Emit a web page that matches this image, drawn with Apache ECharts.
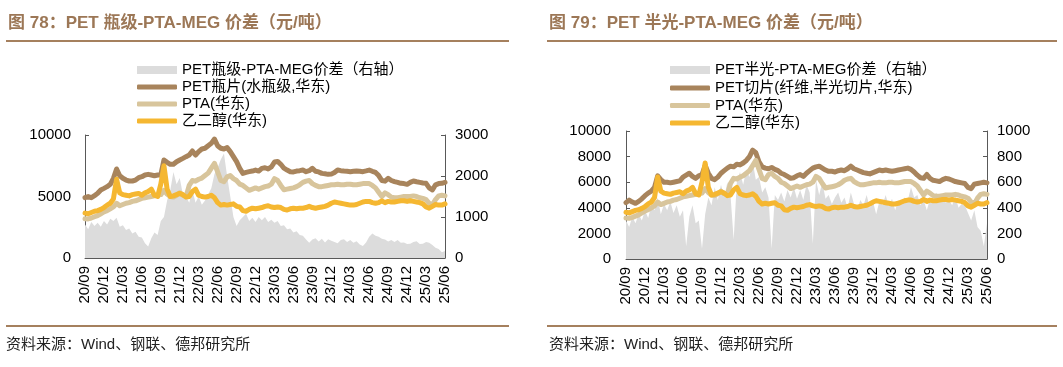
<!DOCTYPE html>
<html><head><meta charset="utf-8">
<script src="https://cdn.jsdelivr.net/npm/echarts@6/dist/echarts.min.js"></script>
<style>html,body{margin:0;padding:0;background:#fff}#c{width:1063px;height:367px}</style>
</head><body><div id="c"></div>
<script>
// Tick labels shown on the quarterly ticks (every 6th half-month category)
const tickLabels = ['20/09','20/12','21/03','21/06','21/09','21/12','22/03','22/06','22/09','22/12',
  '23/03','23/06','23/09','23/12','24/03','24/06','24/09','24/12','25/03','25/06'];

// Half-month categories, 2020-09 (1st half) .. 2025-06 (1st half)
const categories = [];
for (let y = 2020, m = 9; ; ) {
  const mm = String(m).padStart(2, '0');
  categories.push(y + '-' + mm + '-01');
  if (y === 2025 && m === 6) break;
  categories.push(y + '-' + mm + '-16');
  m++; if (m > 12) { m = 1; y++; }
}

// PET bottle grade (East China), yuan/t
const petBottle = [4900,4990,4900,5070,5260,5530,5660,5800,5990,6480,
  7240,6690,6480,6340,6260,6260,6340,6530,6610,6750,
  6800,6750,6690,6750,6750,7970,7780,7620,7620,7830,
  7970,8100,8240,8370,8700,8370,8650,8860,8920,9130,
  9320,9670,9130,8920,8860,8970,8650,8240,7830,7290,
  6880,6960,7020,7070,7150,7070,7290,7340,7240,7400,
  7800,7850,7620,7300,7150,7020,7000,7070,7100,7150,
  7020,7100,7290,7050,7000,6880,6850,6800,6820,6950,
  7150,7100,7070,7050,7020,7050,7070,7050,7020,7080,
  7150,7050,6960,6700,6300,6250,6480,6300,6210,6150,
  6070,6050,5990,6150,6260,6200,6150,6100,6070,5700,
  5530,5950,6050,6070,6150];

// PET fiber semi-dull chips (East China), yuan/t
const petFiber = [4400,4600,4450,4350,4500,4700,4950,5150,5300,5600,
  6500,6200,6000,6000,5950,6000,6050,6100,6400,6550,
  6700,6450,6300,6500,6600,7300,6700,6300,6200,6400,
  6700,6900,7100,7250,7200,7400,7350,7500,7700,8000,
  8500,8300,7600,7200,7100,7050,7150,7000,6900,6700,
  6600,6450,6300,6350,6500,6600,6450,6700,6900,7100,
  7200,7250,7100,6950,6850,6850,6800,6900,6950,6900,
  7050,7250,7050,6950,6850,6750,6700,6650,6750,6850,
  6950,6900,6950,6900,6850,6900,6950,7000,7050,7100,
  7000,6800,6550,6350,6300,6600,6300,6150,6100,6050,
  6200,6300,6250,6150,6050,6000,5950,5900,5600,5500,
  5850,5900,5950,6000,5950];

// PTA (East China), yuan/t
const pta = [3200,3180,3250,3350,3450,3600,3750,3850,4000,4150,
  4450,4250,4350,4450,4500,4600,4650,4750,4850,4900,
  4950,5000,5050,5100,5150,5500,5200,5000,4950,5100,
  5300,5100,5000,5900,6300,6250,6400,6500,6700,6900,
  7300,7700,7000,6300,6200,6600,6700,6450,6300,6000,
  5900,5700,5500,5600,5700,5600,5700,5800,5850,6000,
  6450,6300,5900,5550,5600,5650,5700,5800,5950,6150,
  6250,6300,6050,5900,5800,5800,5850,5900,5950,5950,
  6000,5950,5950,6000,6000,5950,5950,6000,6050,6050,
  6050,5900,5700,5350,5000,5300,5150,4950,4900,4900,
  4950,5000,5000,5000,5050,5000,4900,4850,4750,4450,
  4300,4750,5050,5100,5050];

// MEG (East China), yuan/t
const meg = [3650,3600,3700,3800,3850,3950,4100,4300,4450,4800,
  6400,5300,5150,5100,5050,5150,5200,5250,5100,5300,
  5400,5600,5100,5000,6000,7500,5600,5000,5050,5150,
  5250,5150,4950,5000,5400,5600,5100,5000,4950,5000,
  5100,4900,4500,4300,4350,4300,4350,4400,4200,4150,
  3850,3800,3950,4050,4000,4050,4100,4200,4250,4150,
  4100,4150,4100,3950,3900,4000,4050,4000,4050,4050,
  4100,4200,4100,4050,4100,4150,4200,4300,4450,4550,
  4500,4450,4400,4350,4300,4300,4350,4450,4550,4600,
  4600,4500,4450,4500,4650,4500,4600,4550,4550,4600,
  4650,4650,4600,4650,4600,4550,4500,4400,4150,4050,
  4200,4350,4300,4300,4400];

// Bottle-grade spread (right axis)
const spreadBottle = [820,700,880,780,860,760,900,820,960,900,
  980,760,800,680,720,600,640,520,500,360,
  280,480,620,560,900,1000,1400,1650,2100,1800,
  1950,1550,1500,1350,1650,1350,1500,1300,1400,1550,
  1700,2050,2200,2400,2550,2000,1500,1000,780,920,
  1000,1080,900,980,880,1000,920,1000,880,930,
  860,900,780,800,700,720,620,650,560,540,
  450,370,450,480,400,470,380,460,420,390,
  360,440,460,390,440,370,410,330,290,380,
  520,600,540,520,470,450,400,440,390,440,
  370,380,340,350,390,410,340,350,390,370,
  320,250,220,140,170];

// Semi-dull chip spread (right axis)
const spreadFiber = [300,250,330,280,350,300,380,320,420,380,
  480,350,430,380,450,360,420,330,380,100,
  330,420,280,300,80,350,480,420,560,460,
  580,480,600,500,150,600,680,580,700,640,
  760,620,640,520,560,480,80,500,460,520,
  450,540,480,560,470,540,460,580,520,120,
  620,500,600,470,500,430,480,520,440,480,
  400,520,430,380,460,420,500,400,450,350,
  450,420,500,410,470,380,460,430,480,460,
  560,480,500,420,460,380,470,440,520,450,
  480,440,460,420,490,400,430,420,360,300,
  380,250,220,100,280];

const FONT = '"Liberation Sans","Noto Sans CJK SC",sans-serif';
const C_PET = '#A8845C', C_PTA = '#D8C59C', C_MEG = '#F5B731', C_GRAY = '#DCDCDC';
const AX = '#595959';
const showTick = (i) => i % 6 === 0;

function xAxis(g) {
  return {
    type: 'category', gridIndex: g, data: categories, boundaryGap: false,
    axisLine: { show: true, lineStyle: { color: AX, width: 1 } },
    axisTick: { show: true, inside: true, length: 4, interval: showTick, lineStyle: { color: AX } },
    axisLabel: { interval: showTick, rotate: 90, margin: 8, fontSize: 15, color: '#000', fontFamily: FONT,
      formatter: (v, i) => tickLabels[i / 6] },
    splitLine: { show: false }
  };
}
function yAxis(g, pos, max, interval, margin) {
  return {
    type: 'value', gridIndex: g, position: pos, min: 0, max: max, interval: interval,
    axisLine: { show: true, lineStyle: { color: AX, width: 1 } },
    axisTick: { show: true, inside: true, length: 4, lineStyle: { color: AX } },
    axisLabel: { fontSize: 15, color: '#000', fontFamily: FONT, margin: margin, formatter: (v) => String(v) },
    splitLine: { show: false }
  };
}
function grayS(name, xi, yi, data) {
  return { name, type: 'line', xAxisIndex: xi, yAxisIndex: yi, data, symbol: 'none',
    lineStyle: { width: 0, color: C_GRAY }, itemStyle: { color: C_GRAY },
    areaStyle: { color: C_GRAY, opacity: 1 }, z: 1, silent: true, animation: false };
}
function lineS(name, xi, yi, data, color, z) {
  return { name, type: 'line', xAxisIndex: xi, yAxisIndex: yi, data, symbol: 'none',
    lineStyle: { width: 5, color, cap: 'round', join: 'round' }, itemStyle: { color }, z, animation: false };
}

const nL = ['PET瓶级-PTA-MEG价差（右轴）', 'PET瓶片(水瓶级,华东)', 'PTA(华东)', '乙二醇(华东)'];
const nR = ['PET半光-PTA-MEG价差（右轴）', 'PET切片(纤维,半光切片,华东)', 'PTA(华东)', '乙二醇(华东)'];

const legTxt = { fontSize: 15, color: '#000', fontFamily: FONT };
function legend(left, top, data, h, icon, gap) {
  return { orient: 'vertical', left, top, itemWidth: 40, itemHeight: h, icon, data, itemGap: gap,
    textStyle: legTxt, selectedMode: false, padding: 0 };
}

function txt(x, y, text, font, fill) {
  return { type: 'text', x, y, style: { text, font, fill, verticalAlign: 'middle' } };
}
function hline(x1, x2, y) {
  return { type: 'line', shape: { x1, y1: y, x2, y2: y }, style: { stroke: '#A5805E', lineWidth: 2 } };
}

const option = {
  animation: false,
  grid: [
    { left: 85, top: 135, width: 360, height: 123 },
    { left: 626, top: 131, width: 361, height: 128 }
  ],
  xAxis: [xAxis(0), xAxis(1)],
  yAxis: [yAxis(0, 'left', 10000, 5000, 14), yAxis(0, 'right', 3000, 1000, 10),
          yAxis(1, 'left', 10000, 2000, 15), yAxis(1, 'right', 1000, 200, 10)],
  legend: [
    legend(137, 62.5, [nL[0]], 8, 'rect', 2),
    legend(137, 79.5, [nL[1], nL[2], nL[3]], 5, 'roundRect', 2),
    legend(670, 62.5, [nR[0]], 8, 'rect', 2),
    legend(670, 80.5, [nR[1], nR[2], nR[3]], 5, 'roundRect', 2.5)
  ],
  series: [
    grayS(nL[0], 0, 1, spreadBottle),
    lineS(nL[1], 0, 0, petBottle, C_PET, 3),
    lineS(nL[2], 0, 0, pta, C_PTA, 4),
    lineS(nL[3], 0, 0, meg, C_MEG, 5),
    grayS(nR[0], 1, 3, spreadFiber),
    lineS(nR[1], 1, 2, petFiber, C_PET, 3),
    lineS(nR[2], 1, 2, pta, C_PTA, 4),
    lineS(nR[3], 1, 2, meg, C_MEG, 5)
  ],
  graphic: [
    txt(8, 23, '图 78：PET 瓶级-PTA-MEG 价差（元/吨）', 'bold 17px ' + FONT, '#9C7756'),
    hline(6, 509, 41),
    hline(6, 509, 326),
    txt(6, 345, '资料来源：Wind、钢联、德邦研究所', '15px ' + FONT, '#222'),
    txt(549, 23, '图 79：PET 半光-PTA-MEG 价差（元/吨）', 'bold 17px ' + FONT, '#9C7756'),
    hline(547, 1057, 41),
    hline(547, 1057, 326),
    txt(549, 345, '资料来源：Wind、钢联、德邦研究所', '15px ' + FONT, '#222')
  ]
};
const chart = echarts.init(document.getElementById('c'), null, { renderer: 'canvas' });
chart.setOption(option);
</script></body></html>
